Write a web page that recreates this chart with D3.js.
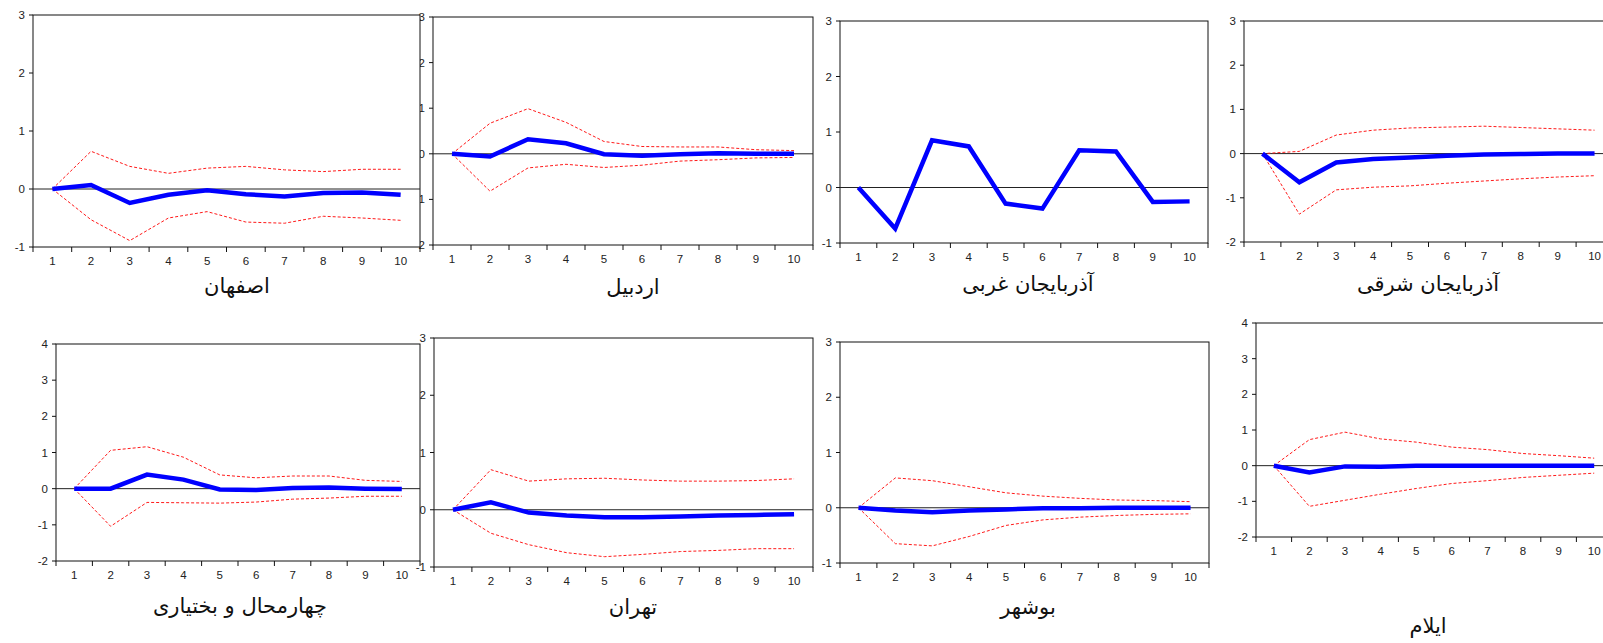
<!DOCTYPE html>
<html>
<head>
<meta charset="utf-8">
<script src="https://cdn.jsdelivr.net/npm/d3@7"></script>
<style>
  body { margin: 0; background: #fff; }
  svg { display: block; }
  .tick-label { font-family: "Liberation Sans", Arial, sans-serif; font-size: 11.5px; fill: #222; }
  .title { font-family: "DejaVu Sans", sans-serif; font-size: 21px; fill: #111; }
</style>
</head>
<body>
<svg id="chart" width="1603" height="643"></svg>
<script>
// Periods on the x axis
const periods = [1, 2, 3, 4, 5, 6, 7, 8, 9, 10];

// Province names (panel titles)
const titles = [
  'اصفهان', 'اردبیل', 'آذربایجان غربی', 'آذربایجان شرقی',
  'چهارمحال و بختیاری', 'تهران', 'بوشهر', 'ایلام'
];

// Y axis ranges for each panel
const yDomains = [
  [-1, 3], [-2, 3], [-1, 3], [-2, 3],
  [-2, 4], [-1, 3], [-1, 3], [-2, 4]
];

// Impulse response (blue line)
const responses = [
  [0, 0.07, -0.24, -0.10, -0.02, -0.09, -0.13, -0.07, -0.06, -0.10],
  [0, -0.06, 0.32, 0.23, -0.01, -0.04, -0.01, 0.01, 0, 0],
  [0, -0.74, 0.85, 0.74, -0.29, -0.38, 0.67, 0.65, -0.26, -0.25],
  [0, -0.65, -0.20, -0.12, -0.09, -0.05, -0.02, -0.01, 0, 0],
  [0, 0, 0.39, 0.25, -0.02, -0.04, 0.02, 0.03, 0, -0.01],
  [0, 0.13, -0.05, -0.10, -0.13, -0.13, -0.12, -0.10, -0.09, -0.08],
  [0, -0.05, -0.08, -0.05, -0.03, -0.01, -0.01, 0, 0, 0],
  [0, -0.19, -0.02, -0.03, 0, 0, 0, 0, 0, 0]
];

// Upper confidence band (red dashed), null = not drawn
const upperBands = [
  [0, 0.65, 0.39, 0.27, 0.36, 0.39, 0.33, 0.30, 0.34, 0.34],
  [0, 0.67, 0.99, 0.69, 0.27, 0.16, 0.15, 0.15, 0.09, 0.07],
  null,
  [0, 0.05, 0.42, 0.53, 0.58, 0.60, 0.62, 0.59, 0.56, 0.53],
  [0, 1.06, 1.16, 0.87, 0.38, 0.30, 0.35, 0.35, 0.23, 0.20],
  [0, 0.70, 0.50, 0.54, 0.55, 0.52, 0.50, 0.50, 0.51, 0.54],
  [0, 0.54, 0.49, 0.38, 0.27, 0.21, 0.17, 0.14, 0.13, 0.11],
  [0, 0.73, 0.94, 0.75, 0.66, 0.52, 0.45, 0.34, 0.28, 0.21]
];

// Lower confidence band (red dashed)
const lowerBands = [
  [0, -0.53, -0.89, -0.50, -0.39, -0.57, -0.59, -0.47, -0.50, -0.54],
  [0, -0.82, -0.31, -0.23, -0.30, -0.25, -0.16, -0.13, -0.09, -0.08],
  null,
  [0, -1.37, -0.82, -0.76, -0.73, -0.67, -0.62, -0.57, -0.53, -0.50],
  [0, -1.04, -0.38, -0.39, -0.40, -0.37, -0.29, -0.26, -0.21, -0.21],
  [0, -0.41, -0.61, -0.75, -0.82, -0.78, -0.73, -0.71, -0.68, -0.68],
  [0, -0.65, -0.69, -0.52, -0.32, -0.22, -0.17, -0.14, -0.12, -0.11],
  [0, -1.14, -0.97, -0.80, -0.64, -0.50, -0.42, -0.33, -0.27, -0.21]
];

// Panel frames on the page: plot box left/right/top/bottom and title position
const frames = [
  { x0: 33,   x1: 420,  y0: 15,  y1: 247, tx: 237,  ty: 293 },
  { x0: 433,  x1: 813,  y0: 17,  y1: 245, tx: 633,  ty: 294 },
  { x0: 840,  x1: 1208, y0: 21,  y1: 243, tx: 1028, ty: 291 },
  { x0: 1244, x1: 1613, y0: 21,  y1: 242, tx: 1428, ty: 291 },
  { x0: 56,   x1: 420,  y0: 344, y1: 561, tx: 240,  ty: 613 },
  { x0: 434,  x1: 813,  y0: 338, y1: 567, tx: 633,  ty: 614 },
  { x0: 840,  x1: 1209, y0: 342, y1: 563, tx: 1028, ty: 614 },
  { x0: 1256, x1: 1612, y0: 323, y1: 537, tx: 1428, ty: 633 }
];

const svg = d3.select('#chart');

const drawPanel = (i) => {
  const f = frames[i];
  const g = svg.append('g').attr('class', `panel panel-${i}`);

  const xScale = d3.scaleBand()
    .domain(periods)
    .range([f.x0, f.x1]);
  const xc = d => xScale(d) + xScale.bandwidth() / 2;

  const yScale = d3.scaleLinear()
    .domain(yDomains[i])
    .range([f.y1, f.y0]);

  // Y axis labels (drawn first so the neighbour box can cover them)
  const yTicks = d3.range(yDomains[i][0], yDomains[i][1] + 1);
  g.selectAll('text.ylab')
    .data(yTicks)
    .join('text')
    .attr('class', 'tick-label ylab')
    .attr('x', f.x0 - 8)
    .attr('y', d => yScale(d))
    .attr('dy', '0.35em')
    .attr('text-anchor', 'end')
    .text(d => d);

  // White plot area with frame
  g.append('rect')
    .attr('x', f.x0)
    .attr('y', f.y0)
    .attr('width', f.x1 - f.x0)
    .attr('height', f.y1 - f.y0)
    .style('fill', '#fff')
    .style('stroke', '#111')
    .style('stroke-width', 1);

  g.selectAll('line.ytick')
    .data(yTicks)
    .join('line')
    .attr('class', 'ytick')
    .attr('x1', f.x0 - 4)
    .attr('x2', f.x0)
    .attr('y1', d => yScale(d))
    .attr('y2', d => yScale(d))
    .style('stroke', '#111');

  // X axis: ticks at the band edges, labels at the centres
  const edges = periods.map(d => xScale(d)).concat([f.x1]);
  g.selectAll('line.xtick')
    .data(edges)
    .join('line')
    .attr('class', 'xtick')
    .attr('x1', d => d)
    .attr('x2', d => d)
    .attr('y1', f.y1)
    .attr('y2', f.y1 + 5)
    .style('stroke', '#111');

  g.selectAll('text.xlab')
    .data(periods)
    .join('text')
    .attr('class', 'tick-label xlab')
    .attr('x', d => xc(d))
    .attr('y', f.y1 + 18)
    .attr('text-anchor', 'middle')
    .text(d => d);

  // Zero line
  g.append('line')
    .attr('x1', f.x0)
    .attr('x2', f.x1)
    .attr('y1', yScale(0))
    .attr('y2', yScale(0))
    .style('stroke', '#222')
    .style('stroke-width', 1);

  const line = d3.line()
    .x((d, k) => xc(periods[k]))
    .y(d => yScale(d));

  // Confidence bands
  [upperBands[i], lowerBands[i]].forEach(band => {
    if (band === null) { return; }
    g.append('path')
      .attr('d', line(band))
      .style('fill', 'none')
      .style('stroke', '#ff1a1a')
      .style('stroke-width', 1)
      .style('stroke-dasharray', '3,2');
  });

  // Response
  g.append('path')
    .attr('d', line(responses[i]))
    .style('fill', 'none')
    .style('stroke', '#0000ff')
    .style('stroke-width', 4.5)
    .style('stroke-linejoin', 'miter');

  // Title
  g.append('text')
    .attr('class', 'title')
    .attr('x', f.tx)
    .attr('y', f.ty)
    .attr('text-anchor', 'middle')
    .attr('direction', 'rtl')
    .text(titles[i]);
};

// Draw right to left so a left panel covers the labels of its right neighbour
[3, 2, 1, 0, 7, 6, 5, 4].forEach(drawPanel);
</script>
</body>
</html>
